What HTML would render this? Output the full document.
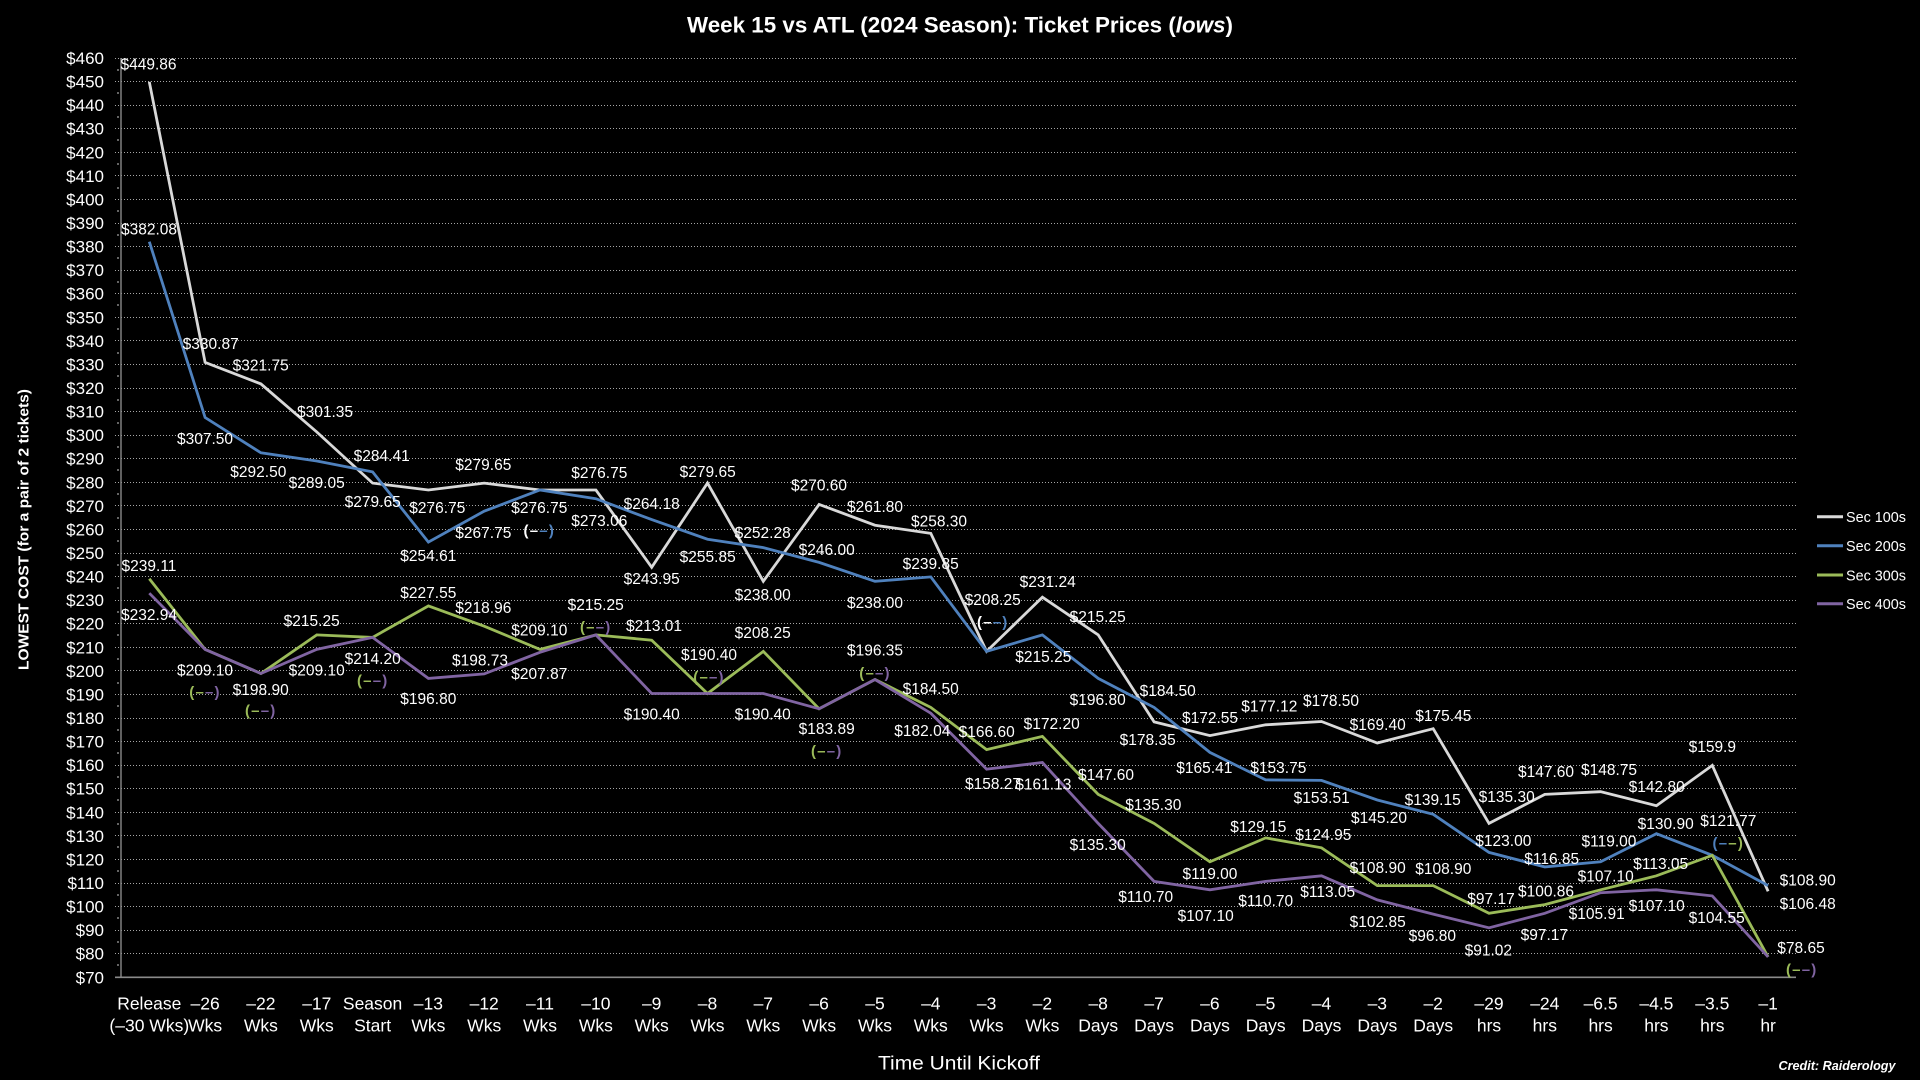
<!DOCTYPE html>
<html>
<head>
<meta charset="utf-8">
<style>
html,body{margin:0;padding:0;background:#000;}
svg{display:block;}
text{font-family:"Liberation Sans",Arial,sans-serif;}
.d{font-size:15.5px;fill:#fff;text-anchor:middle;}
.yt{font-size:17px;fill:#fff;text-anchor:end;}
.xt{font-size:17.5px;fill:#fff;text-anchor:middle;}
.q{font-size:15px;text-anchor:middle;font-weight:bold;letter-spacing:1.2px;}
.lg{font-size:15px;fill:#fff;}
</style>
</head>
<body>
<svg width="1920" height="1080" viewBox="0 0 1920 1080" xmlns="http://www.w3.org/2000/svg">
<rect x="0" y="0" width="1920" height="1080" fill="#000"/>

<!-- Title -->
<text x="960" y="32.5" text-anchor="middle" font-size="22" font-weight="bold" fill="#fff" textLength="546" lengthAdjust="spacingAndGlyphs">Week 15 vs ATL (2024 Season): Ticket Prices (<tspan font-style="italic">lows</tspan>)</text>

<!-- Gridlines -->
<g stroke="#a6a6a6" stroke-width="1" stroke-dasharray="1 2" fill="none">
<line x1="115" x2="1796" y1="58.5" y2="58.5"/>
<line x1="115" x2="1796" y1="81.5" y2="81.5"/>
<line x1="115" x2="1796" y1="105.5" y2="105.5"/>
<line x1="115" x2="1796" y1="128.5" y2="128.5"/>
<line x1="115" x2="1796" y1="152.5" y2="152.5"/>
<line x1="115" x2="1796" y1="175.5" y2="175.5"/>
<line x1="115" x2="1796" y1="199.5" y2="199.5"/>
<line x1="115" x2="1796" y1="223.5" y2="223.5"/>
<line x1="115" x2="1796" y1="246.5" y2="246.5"/>
<line x1="115" x2="1796" y1="270.5" y2="270.5"/>
<line x1="115" x2="1796" y1="293.5" y2="293.5"/>
<line x1="115" x2="1796" y1="317.5" y2="317.5"/>
<line x1="115" x2="1796" y1="340.5" y2="340.5"/>
<line x1="115" x2="1796" y1="364.5" y2="364.5"/>
<line x1="115" x2="1796" y1="388.5" y2="388.5"/>
<line x1="115" x2="1796" y1="411.5" y2="411.5"/>
<line x1="115" x2="1796" y1="435.5" y2="435.5"/>
<line x1="115" x2="1796" y1="458.5" y2="458.5"/>
<line x1="115" x2="1796" y1="482.5" y2="482.5"/>
<line x1="115" x2="1796" y1="505.5" y2="505.5"/>
<line x1="115" x2="1796" y1="529.5" y2="529.5"/>
<line x1="115" x2="1796" y1="553.5" y2="553.5"/>
<line x1="115" x2="1796" y1="576.5" y2="576.5"/>
<line x1="115" x2="1796" y1="600.5" y2="600.5"/>
<line x1="115" x2="1796" y1="623.5" y2="623.5"/>
<line x1="115" x2="1796" y1="647.5" y2="647.5"/>
<line x1="115" x2="1796" y1="670.5" y2="670.5"/>
<line x1="115" x2="1796" y1="694.5" y2="694.5"/>
<line x1="115" x2="1796" y1="718.5" y2="718.5"/>
<line x1="115" x2="1796" y1="741.5" y2="741.5"/>
<line x1="115" x2="1796" y1="765.5" y2="765.5"/>
<line x1="115" x2="1796" y1="788.5" y2="788.5"/>
<line x1="115" x2="1796" y1="812.5" y2="812.5"/>
<line x1="115" x2="1796" y1="835.5" y2="835.5"/>
<line x1="115" x2="1796" y1="859.5" y2="859.5"/>
<line x1="115" x2="1796" y1="883.5" y2="883.5"/>
<line x1="115" x2="1796" y1="906.5" y2="906.5"/>
<line x1="115" x2="1796" y1="930.5" y2="930.5"/>
<line x1="115" x2="1796" y1="953.5" y2="953.5"/>
</g>
<!-- minor ticks -->
<g stroke="#a6a6a6" stroke-width="1.2" fill="none">
<line x1="117" x2="119" y1="70" y2="70"/><line x1="117" x2="119" y1="93" y2="93"/><line x1="117" x2="119" y1="117" y2="117"/><line x1="117" x2="119" y1="140" y2="140"/><line x1="117" x2="119" y1="164" y2="164"/><line x1="117" x2="119" y1="188" y2="188"/><line x1="117" x2="119" y1="211" y2="211"/><line x1="117" x2="119" y1="235" y2="235"/><line x1="117" x2="119" y1="258" y2="258"/><line x1="117" x2="119" y1="282" y2="282"/><line x1="117" x2="119" y1="305" y2="305"/><line x1="117" x2="119" y1="329" y2="329"/><line x1="117" x2="119" y1="353" y2="353"/><line x1="117" x2="119" y1="376" y2="376"/><line x1="117" x2="119" y1="400" y2="400"/><line x1="117" x2="119" y1="423" y2="423"/><line x1="117" x2="119" y1="447" y2="447"/><line x1="117" x2="119" y1="470" y2="470"/><line x1="117" x2="119" y1="494" y2="494"/><line x1="117" x2="119" y1="518" y2="518"/><line x1="117" x2="119" y1="541" y2="541"/><line x1="117" x2="119" y1="565" y2="565"/><line x1="117" x2="119" y1="588" y2="588"/><line x1="117" x2="119" y1="612" y2="612"/><line x1="117" x2="119" y1="635" y2="635"/><line x1="117" x2="119" y1="659" y2="659"/><line x1="117" x2="119" y1="683" y2="683"/><line x1="117" x2="119" y1="706" y2="706"/><line x1="117" x2="119" y1="730" y2="730"/><line x1="117" x2="119" y1="753" y2="753"/><line x1="117" x2="119" y1="777" y2="777"/><line x1="117" x2="119" y1="800" y2="800"/><line x1="117" x2="119" y1="824" y2="824"/><line x1="117" x2="119" y1="847" y2="847"/><line x1="117" x2="119" y1="871" y2="871"/><line x1="117" x2="119" y1="895" y2="895"/><line x1="117" x2="119" y1="918" y2="918"/><line x1="117" x2="119" y1="942" y2="942"/><line x1="117" x2="119" y1="965" y2="965"/>
</g>

<!-- Axes -->
<line x1="121" y1="58" x2="121" y2="977.5" stroke="#8a8a8a" stroke-width="1.4"/>
<line x1="115" y1="977.3" x2="1796" y2="977.3" stroke="#8a8a8a" stroke-width="1.6"/>

<!-- Y tick labels -->
<g class="yt">
<text x="104" y="64">$460</text>
<text x="104" y="87.6">$450</text>
<text x="104" y="111.2">$440</text>
<text x="104" y="134.7">$430</text>
<text x="104" y="158.3">$420</text>
<text x="104" y="181.9">$410</text>
<text x="104" y="205.4">$400</text>
<text x="104" y="229">$390</text>
<text x="104" y="252.6">$380</text>
<text x="104" y="276.1">$370</text>
<text x="104" y="299.7">$360</text>
<text x="104" y="323.3">$350</text>
<text x="104" y="346.9">$340</text>
<text x="104" y="370.4">$330</text>
<text x="104" y="394">$320</text>
<text x="104" y="417.6">$310</text>
<text x="104" y="441.1">$300</text>
<text x="104" y="464.7">$290</text>
<text x="104" y="488.3">$280</text>
<text x="104" y="511.9">$270</text>
<text x="104" y="535.4">$260</text>
<text x="104" y="559">$250</text>
<text x="104" y="582.6">$240</text>
<text x="104" y="606.1">$230</text>
<text x="104" y="629.7">$220</text>
<text x="104" y="653.3">$210</text>
<text x="104" y="676.9">$200</text>
<text x="104" y="700.4">$190</text>
<text x="104" y="724">$180</text>
<text x="104" y="747.6">$170</text>
<text x="104" y="771.1">$160</text>
<text x="104" y="794.7">$150</text>
<text x="104" y="818.3">$140</text>
<text x="104" y="841.9">$130</text>
<text x="104" y="865.4">$120</text>
<text x="104" y="889">$110</text>
<text x="104" y="912.6">$100</text>
<text x="104" y="936.1">$90</text>
<text x="104" y="959.7">$80</text>
<text x="104" y="983.3">$70</text>
</g>

<!-- Y axis title -->
<text transform="translate(28.5,529.5) rotate(-90)" x="0" y="0" text-anchor="middle" font-size="15" font-weight="bold" fill="#fff" textLength="281" lengthAdjust="spacingAndGlyphs">LOWEST COST (for a pair of 2 tickets)</text>

<!-- X tick labels -->
<g class="xt">
<text x="149.3" y="1009.3">Release</text><text x="149.3" y="1031.3">(–30 Wks)</text>
<text x="205.1" y="1009.3">–26</text><text x="205.1" y="1031.3">Wks</text>
<text x="260.9" y="1009.3">–22</text><text x="260.9" y="1031.3">Wks</text>
<text x="316.8" y="1009.3">–17</text><text x="316.8" y="1031.3">Wks</text>
<text x="372.6" y="1009.3">Season</text><text x="372.6" y="1031.3">Start</text>
<text x="428.4" y="1009.3">–13</text><text x="428.4" y="1031.3">Wks</text>
<text x="484.2" y="1009.3">–12</text><text x="484.2" y="1031.3">Wks</text>
<text x="540.0" y="1009.3">–11</text><text x="540.0" y="1031.3">Wks</text>
<text x="595.9" y="1009.3">–10</text><text x="595.9" y="1031.3">Wks</text>
<text x="651.7" y="1009.3">–9</text><text x="651.7" y="1031.3">Wks</text>
<text x="707.5" y="1009.3">–8</text><text x="707.5" y="1031.3">Wks</text>
<text x="763.3" y="1009.3">–7</text><text x="763.3" y="1031.3">Wks</text>
<text x="819.1" y="1009.3">–6</text><text x="819.1" y="1031.3">Wks</text>
<text x="875.0" y="1009.3">–5</text><text x="875.0" y="1031.3">Wks</text>
<text x="930.8" y="1009.3">–4</text><text x="930.8" y="1031.3">Wks</text>
<text x="986.6" y="1009.3">–3</text><text x="986.6" y="1031.3">Wks</text>
<text x="1042.4" y="1009.3">–2</text><text x="1042.4" y="1031.3">Wks</text>
<text x="1098.2" y="1009.3">–8</text><text x="1098.2" y="1031.3">Days</text>
<text x="1154.1" y="1009.3">–7</text><text x="1154.1" y="1031.3">Days</text>
<text x="1209.9" y="1009.3">–6</text><text x="1209.9" y="1031.3">Days</text>
<text x="1265.7" y="1009.3">–5</text><text x="1265.7" y="1031.3">Days</text>
<text x="1321.5" y="1009.3">–4</text><text x="1321.5" y="1031.3">Days</text>
<text x="1377.3" y="1009.3">–3</text><text x="1377.3" y="1031.3">Days</text>
<text x="1433.2" y="1009.3">–2</text><text x="1433.2" y="1031.3">Days</text>
<text x="1489.0" y="1009.3">–29</text><text x="1489.0" y="1031.3">hrs</text>
<text x="1544.8" y="1009.3">–24</text><text x="1544.8" y="1031.3">hrs</text>
<text x="1600.6" y="1009.3">–6.5</text><text x="1600.6" y="1031.3">hrs</text>
<text x="1656.4" y="1009.3">–4.5</text><text x="1656.4" y="1031.3">hrs</text>
<text x="1712.3" y="1009.3">–3.5</text><text x="1712.3" y="1031.3">hrs</text>
<text x="1768.1" y="1009.3">–1</text><text x="1768.1" y="1031.3">hr</text>
</g>

<!-- X axis title -->
<text x="959" y="1069.5" text-anchor="middle" font-size="19.5" fill="#fff" textLength="162" lengthAdjust="spacingAndGlyphs">Time Until Kickoff</text>
<!-- Credit -->
<text x="1895.5" y="1070" text-anchor="end" font-size="12.5" font-weight="bold" font-style="italic" fill="#fff" textLength="117" lengthAdjust="spacingAndGlyphs">Credit: Raiderology</text>

<!-- Series lines -->
<g fill="none" stroke-width="2.8" stroke-linejoin="miter">
<polyline stroke="#d9d9d9" points="149.3,81.9 205.1,362.4 260.9,383.9 316.8,432.0 372.6,483.1 428.4,490.0 484.2,483.1 540.0,490.0 595.9,490.0 651.7,567.3 707.5,483.1 763.3,581.3 819.1,504.4 875.0,525.2 930.8,533.4 986.6,651.4 1042.4,597.2 1098.2,634.9 1154.1,721.9 1209.9,735.6 1265.7,724.8 1321.5,721.5 1377.3,743.0 1433.2,728.7 1489.0,823.4 1544.8,794.4 1600.6,791.7 1656.4,805.7 1712.3,765.4 1768.1,891.3"/>
<polyline stroke="#4f81bd" points="149.3,241.7 205.1,417.5 260.9,452.8 316.8,461.0 372.6,471.9 428.4,542.1 484.2,511.2 540.0,490.0 595.9,498.7 651.7,519.6 707.5,539.2 763.3,547.6 819.1,562.4 875.0,581.3 930.8,576.9 986.6,651.4 1042.4,634.9 1098.2,678.4 1154.1,707.4 1209.9,752.4 1265.7,779.9 1321.5,780.4 1377.3,800.0 1433.2,814.3 1489.0,852.4 1544.8,866.9 1600.6,861.8 1656.4,833.7 1712.3,855.3 1768.1,885.6"/>
<polyline stroke="#9bbb59" points="149.3,578.7 205.1,649.4 260.9,673.5 316.8,634.9 372.6,637.4 428.4,605.9 484.2,626.2 540.0,649.4 595.9,634.9 651.7,640.2 707.5,693.5 763.3,651.4 819.1,708.8 875.0,679.5 930.8,707.4 986.6,749.6 1042.4,736.4 1098.2,794.4 1154.1,823.4 1209.9,861.8 1265.7,837.9 1321.5,847.8 1377.3,885.6 1433.2,885.6 1489.0,913.3 1544.8,904.6 1600.6,889.8 1656.4,875.8 1712.3,855.3 1768.1,956.9"/>
<polyline stroke="#8064a2" points="149.3,593.2 205.1,649.4 260.9,673.5 316.8,649.4 372.6,637.4 428.4,678.4 484.2,673.9 540.0,652.3 595.9,634.9 651.7,693.5 707.5,693.5 763.3,693.5 819.1,708.8 875.0,679.5 930.8,713.2 986.6,769.2 1042.4,762.5 1098.2,823.4 1154.1,881.4 1209.9,889.8 1265.7,881.4 1321.5,875.8 1377.3,899.9 1433.2,914.1 1489.0,927.8 1544.8,913.3 1600.6,892.7 1656.4,889.8 1712.3,895.9 1768.1,956.9"/>
</g>

<!-- Data labels -->
<g class="d">
<text x="148.5" y="69.5">$449.86</text>
<text x="149" y="234.5">$382.08</text>
<text x="149" y="571.2">$239.11</text>
<text x="149" y="619.8">$232.94</text>

<text x="210.7" y="348.8">$330.87</text>
<text x="205" y="443.8">$307.50</text>
<text x="205" y="675.5">$209.10</text>

<text x="260.7" y="370.5">$321.75</text>
<text x="258.3" y="477.2">$292.50</text>
<text x="260.7" y="694.8">$198.90</text>

<text x="325" y="417.2">$301.35</text>
<text x="316.7" y="488.2">$289.05</text>
<text x="311.7" y="626.2">$215.25</text>
<text x="316.7" y="675.5">$209.10</text>

<text x="381.7" y="460.8">$284.41</text>
<text x="372.7" y="507.2">$279.65</text>
<text x="372.7" y="663.8">$214.20</text>

<text x="437.3" y="513.2">$276.75</text>
<text x="428.3" y="561.2">$254.61</text>
<text x="428.3" y="597.8">$227.55</text>
<text x="428.3" y="703.8">$196.80</text>

<text x="483.3" y="469.8">$279.65</text>
<text x="483.3" y="537.8">$267.75</text>
<text x="483.3" y="612.8">$218.96</text>
<text x="480" y="665.5">$198.73</text>

<text x="539.3" y="513.2">$276.75</text>
<text x="539.3" y="635.5">$209.10</text>
<text x="539.3" y="678.8">$207.87</text>

<text x="599.3" y="477.8">$276.75</text>
<text x="599.3" y="526.2">$273.06</text>
<text x="595.7" y="609.8">$215.25</text>

<text x="651.7" y="508.8">$264.18</text>
<text x="651.7" y="583.8">$243.95</text>
<text x="654" y="631.2">$213.01</text>
<text x="651.7" y="719.5">$190.40</text>

<text x="707.7" y="477.2">$279.65</text>
<text x="707.7" y="562.2">$255.85</text>
<text x="709" y="659.8">$190.40</text>

<text x="762.7" y="538.2">$252.28</text>
<text x="762.7" y="599.8">$238.00</text>
<text x="762.7" y="637.8">$208.25</text>
<text x="762.7" y="719.5">$190.40</text>

<text x="819" y="490.5">$270.60</text>
<text x="826.7" y="554.8">$246.00</text>
<text x="826.7" y="733.8">$183.89</text>

<text x="875" y="512.2">$261.80</text>
<text x="875" y="607.8">$238.00</text>
<text x="875" y="655.5">$196.35</text>

<text x="939" y="526.5">$258.30</text>
<text x="930.7" y="568.8">$239.85</text>
<text x="930.7" y="693.8">$184.50</text>
<text x="922.3" y="736.2">$182.04</text>

<text x="992.7" y="604.8">$208.25</text>
<text x="986.7" y="737.2">$166.60</text>
<text x="993" y="789.1">$158.27</text>

<text x="1047.7" y="587.2">$231.24</text>
<text x="1043.3" y="662.2">$215.25</text>
<text x="1051.7" y="728.8">$172.20</text>
<text x="1043.3" y="789.5">$161.13</text>

<text x="1097.7" y="622.2">$215.25</text>
<text x="1097.7" y="704.8">$196.80</text>
<text x="1106" y="779.8">$147.60</text>
<text x="1097.7" y="849.8">$135.30</text>

<text x="1167.7" y="696.2">$184.50</text>
<text x="1147.7" y="744.8">$178.35</text>
<text x="1153.3" y="809.8">$135.30</text>
<text x="1145.7" y="902.2">$110.70</text>

<text x="1210" y="723.2">$172.55</text>
<text x="1204.3" y="773.2">$165.41</text>
<text x="1210" y="878.8">$119.00</text>
<text x="1205.7" y="921.2">$107.10</text>

<text x="1269.3" y="711.5">$177.12</text>
<text x="1278.3" y="773.2">$153.75</text>
<text x="1258.3" y="832.2">$129.15</text>
<text x="1265.7" y="906.2">$110.70</text>

<text x="1331" y="706.2">$178.50</text>
<text x="1321.7" y="803.2">$153.51</text>
<text x="1323.3" y="839.8">$124.95</text>
<text x="1327.7" y="897.2">$113.05</text>

<text x="1377.7" y="729.8">$169.40</text>
<text x="1379" y="822.8">$145.20</text>
<text x="1377.7" y="873.2">$108.90</text>
<text x="1377.7" y="927.2">$102.85</text>

<text x="1443.3" y="721.2">$175.45</text>
<text x="1432.7" y="804.8">$139.15</text>
<text x="1443.3" y="873.8">$108.90</text>
<text x="1432.3" y="941.2">$96.80</text>

<text x="1506.7" y="802.2">$135.30</text>
<text x="1503.3" y="846.2">$123.00</text>
<text x="1491" y="903.8">$97.17</text>
<text x="1488.3" y="955.5">$91.02</text>

<text x="1546" y="777.2">$147.60</text>
<text x="1551.7" y="863.8">$116.85</text>
<text x="1546" y="896.5">$100.86</text>
<text x="1544.3" y="939.8">$97.17</text>

<text x="1609" y="774.8">$148.75</text>
<text x="1609" y="846.5">$119.00</text>
<text x="1605.7" y="881.5">$107.10</text>
<text x="1596.7" y="918.8">$105.91</text>

<text x="1656.7" y="792.2">$142.80</text>
<text x="1665.7" y="828.8">$130.90</text>
<text x="1660.7" y="868.8">$113.05</text>
<text x="1656.7" y="911.2">$107.10</text>

<text x="1712.3" y="752.2">$159.9</text>
<text x="1728.3" y="826.2">$121.77</text>
<text x="1716.7" y="922.8">$104.55</text>

<text x="1807.7" y="885.5">$108.90</text>
<text x="1807.7" y="908.8">$106.48</text>
<text x="1801" y="953.2">$78.65</text>
</g>

<!-- "(--)" equal-value markers -->
<g class="q">
<text x="205" y="697"><tspan fill="#9bbb59">(–</tspan><tspan fill="#8064a2">–)</tspan></text>
<text x="260.7" y="715.5"><tspan fill="#9bbb59">(–</tspan><tspan fill="#8064a2">–)</tspan></text>
<text x="372.7" y="685.5"><tspan fill="#9bbb59">(–</tspan><tspan fill="#8064a2">–)</tspan></text>
<text x="539.3" y="535.5"><tspan fill="#ffffff">(–</tspan><tspan fill="#4f81bd">–)</tspan></text>
<text x="595.7" y="632.2"><tspan fill="#9bbb59">(–</tspan><tspan fill="#8064a2">–)</tspan></text>
<text x="709" y="682.2"><tspan fill="#9bbb59">(–</tspan><tspan fill="#8064a2">–)</tspan></text>
<text x="826.7" y="756.2"><tspan fill="#9bbb59">(–</tspan><tspan fill="#8064a2">–)</tspan></text>
<text x="875" y="677.8"><tspan fill="#9bbb59">(–</tspan><tspan fill="#8064a2">–)</tspan></text>
<text x="992.7" y="627.2"><tspan fill="#ffffff">(–</tspan><tspan fill="#4f81bd">–)</tspan></text>
<text x="1728.3" y="847.8"><tspan fill="#4f81bd">(–</tspan><tspan fill="#9bbb59">–)</tspan></text>
<text x="1801.7" y="974.5"><tspan fill="#9bbb59">(–</tspan><tspan fill="#8064a2">–)</tspan></text>
</g>

<!-- Legend -->
<g stroke-width="3">
<line x1="1817" y1="516.7" x2="1843" y2="516.7" stroke="#d9d9d9"/>
<line x1="1817" y1="545.7" x2="1843" y2="545.7" stroke="#4f81bd"/>
<line x1="1817" y1="575" x2="1843" y2="575" stroke="#9bbb59"/>
<line x1="1817" y1="603.7" x2="1843" y2="603.7" stroke="#8064a2"/>
</g>
<g class="lg">
<text x="1846" y="522" textLength="60" lengthAdjust="spacingAndGlyphs">Sec 100s</text>
<text x="1846" y="551" textLength="60" lengthAdjust="spacingAndGlyphs">Sec 200s</text>
<text x="1846" y="580.3" textLength="60" lengthAdjust="spacingAndGlyphs">Sec 300s</text>
<text x="1846" y="609" textLength="60" lengthAdjust="spacingAndGlyphs">Sec 400s</text>
</g>
</svg>
</body>
</html>
